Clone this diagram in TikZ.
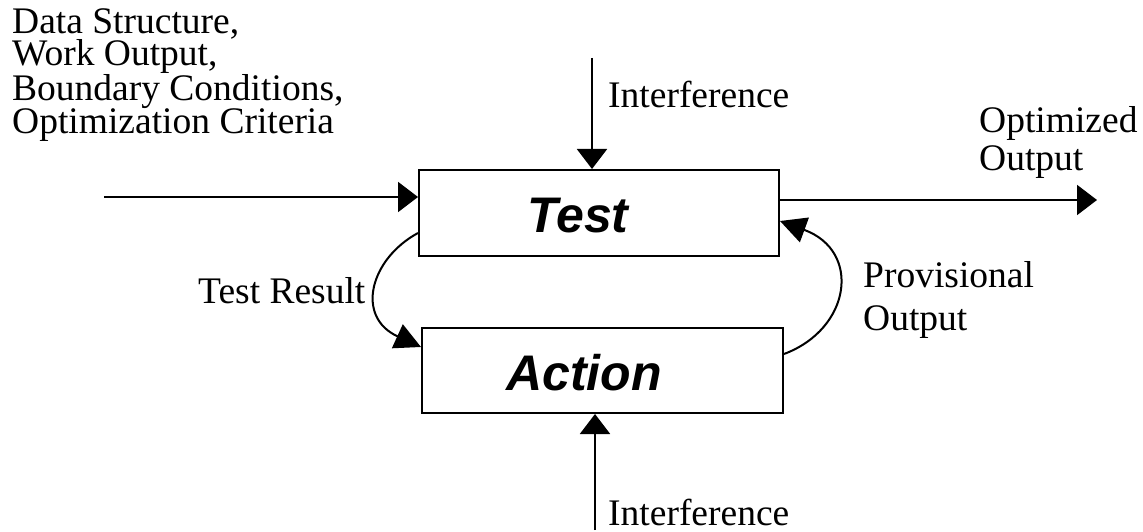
\documentclass[tikz,border=0pt]{standalone}
\usepackage{fontspec}
\setmainfont{Liberation Serif}
\setsansfont{Liberation Sans}
\usetikzlibrary{arrows.meta,calc}
\begin{document}
\begin{tikzpicture}[x=1pt,y=-1pt,
  box/.style={draw,line width=2pt,rectangle,inner sep=0pt},
  boxtext/.style={inner sep=0pt,anchor=base,font=\sffamily\bfseries\itshape\fontsize{50}{60}\selectfont},
  lbl/.style={inner sep=0pt,anchor=base west,align=left,font=\rmfamily\fontsize{37.5}{32}\selectfont},
  arr/.style={line width=2pt,-{Triangle[length=20pt,width=30pt]}},
  carr/.style={line width=2pt,-{Triangle[length=26pt,width=26pt]}}]
\useasboundingbox (0,0) rectangle (1143,532);
% boxes
\node[box,minimum width=360pt,minimum height=86pt] (test) at (599,213) {};
\node[box,minimum width=361pt,minimum height=85pt] (action) at (602.5,370.5) {};
\node[boxtext] (testlbl) at (578,232) {Test};
\node[boxtext] (actionlbl) at (584,390) {Action};
% free ends
\coordinate (in) at (104,197);
\coordinate (out) at (1097,200);
\coordinate (itop) at (592,58);
\coordinate (ibot) at (595,530);
% labels (anchor = baseline of the last line)
\node[lbl] (data) at (12,134) {Data Structure,\\Work Output,\\Boundary Conditions,\\Optimization Criteria};
\node[lbl] (intop) at (608,108) {Interference};
\node[lbl,font=\rmfamily\fontsize{37.5}{38}\selectfont] (optout) at (979,170) {Optimized\\Output};
\node[lbl] (testres) at (198,303) {Test Result};
\node[lbl,font=\rmfamily\fontsize{37.5}{43}\selectfont] (prov) at (863,330) {Provisional\\Output};
\node[lbl] (inbot) at (608,525) {Interference};
% connectors
\draw[arr] (in) -- (in -| test.west);
\draw[arr] (test.east |- out) -- (out);
\draw[arr] (itop) -- (itop |- test.north);
\draw[arr] (ibot) -- (ibot |- action.south);
\draw[carr] ([yshift=24pt]test.south west) .. controls +(-48,26) and +(-66,-30) .. ([yshift=-20pt]action.north west);
\draw[carr] ([yshift=-27pt]action.north east) .. controls +(67,-25) and +(82,30) .. ([yshift=36pt]test.south east);
\end{tikzpicture}
\end{document}
